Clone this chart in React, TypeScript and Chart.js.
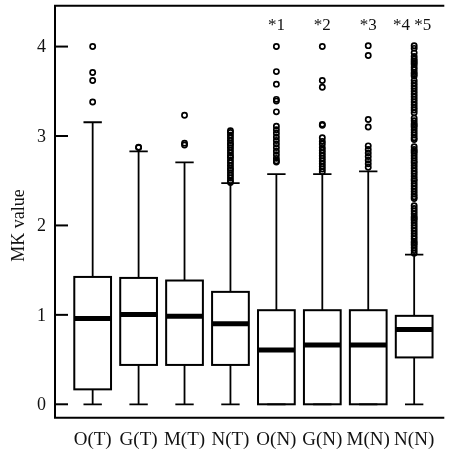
import React, { useEffect, useRef } from "react";
import { Chart, registerables } from "chart.js";
Chart.register(...registerables);

const categories = ["O(T)", "G(T)", "M(T)", "N(T)", "O(N)", "G(N)", "M(N)", "N(N)"];
const whiskerLow = [0, 0, 0, 0, 0, 0, 0, 0];
const q1 = [0.167, 0.44, 0.44, 0.44, 0, 0, 0, 0.524];
const median = [0.96, 1.004, 0.985, 0.9, 0.606, 0.662, 0.662, 0.837];
const q3 = [1.424, 1.413, 1.384, 1.257, 1.052, 1.052, 1.052, 0.989];
const whiskerHigh = [3.154, 2.827, 2.704, 2.473, 2.574, 2.574, 2.604, 1.674];

const outliersOT = [4.0, 3.71, 3.62, 3.38];
const outliersGT = [2.875, 2.87];
const outliersMT = [3.232, 2.92, 2.9];
const outliersNT = [3.06, 3.04, 3.01, 2.98, 2.95, 2.92, 2.9, 2.87, 2.84, 2.81, 2.78, 2.76, 2.73, 2.7, 2.67, 2.64, 2.62, 2.59, 2.56, 2.53, 2.5, 2.48];
const outliersON = [4.0, 3.72, 3.58, 3.41, 3.39, 3.27, 3.11, 3.07, 3.03, 2.99, 2.95, 2.91, 2.87, 2.83, 2.79, 2.75, 2.72, 2.71];
const outliersGN = [4.0, 3.62, 3.545, 3.13, 3.12, 2.98, 2.94, 2.91, 2.87, 2.84, 2.81, 2.78, 2.75, 2.72, 2.69, 2.66, 2.63, 2.6];
const outliersMN = [4.01, 3.9, 3.185, 3.1, 2.89, 2.85, 2.81, 2.77, 2.73, 2.69, 2.65];
const outliersNN = [
  4.01, 3.98, 3.93, 3.89, 3.86, 3.84, 3.82, 3.8, 3.77, 3.74, 3.71, 3.69, 3.67, 3.62, 3.59, 3.56, 3.53, 3.5, 3.47,
  3.44, 3.41, 3.38, 3.35, 3.32, 3.29, 3.26, 3.2, 3.17, 3.14, 3.12, 3.1, 3.07, 3.04, 3.01, 2.98, 2.96,
  2.88, 2.85, 2.83, 2.81, 2.78, 2.75, 2.72, 2.7, 2.67, 2.64, 2.61, 2.58, 2.55, 2.52, 2.5, 2.47, 2.44, 2.41, 2.38, 2.35, 2.32, 2.3,
  2.22, 2.19, 2.16, 2.13, 2.1, 2.08, 2.06, 2.03, 2.0, 1.97, 1.94, 1.91, 1.88, 1.85, 1.82, 1.8, 1.78, 1.75, 1.72, 1.69,
];
const outliers = [outliersOT, outliersGT, outliersMT, outliersNT, outliersON, outliersGN, outliersMN, outliersNN];
const annotations = ["", "", "", "", "*1", "*2", "*3", "*4 *5"];
const yTicks = [0, 1, 2, 3, 4];
const yTitle = "MK value";

const FONT = "'Liberation Serif', 'Times New Roman', serif";

const boxPlugin = {
  id: "boxplot",
  beforeDatasetsDraw(chart: any) {
    const { ctx, chartArea } = chart;
    const x = chart.scales.x;
    const y = chart.scales.y;
    ctx.save();
    ctx.strokeStyle = "#000";
    ctx.fillStyle = "#111";
    // frame: top, left, bottom
    ctx.lineWidth = 2;
    ctx.beginPath();
    ctx.moveTo(chartArea.right, chartArea.top);
    ctx.lineTo(chartArea.left, chartArea.top);
    ctx.lineTo(chartArea.left, chartArea.bottom);
    ctx.lineTo(chartArea.right, chartArea.bottom);
    ctx.stroke();

    // y ticks (inward) and labels
    ctx.font = `18px ${FONT}`;
    ctx.textAlign = "right";
    ctx.textBaseline = "middle";
    yTicks.forEach((t) => {
      const py = y.getPixelForValue(t);
      ctx.beginPath();
      ctx.moveTo(chartArea.left, py);
      ctx.lineTo(chartArea.left + 13, py);
      ctx.stroke();
      ctx.fillText(String(t), chartArea.left - 9, py + 1);
    });

    // y title
    ctx.save();
    ctx.translate(19, y.getPixelForValue(2));
    ctx.rotate(-Math.PI / 2);
    ctx.textAlign = "center";
    ctx.textBaseline = "middle";
    ctx.fillText(yTitle, 0, 0);
    ctx.restore();

    // boxes
    categories.forEach((cat, i) => {
      const cx = x.getPixelForValue(i + 1);
      const halfW = (x.getPixelForValue(i + 1.4) - x.getPixelForValue(i + 0.6)) / 2;
      const capW = halfW / 2;
      const yq1 = y.getPixelForValue(q1[i]);
      const yq3 = y.getPixelForValue(q3[i]);
      const ymed = y.getPixelForValue(median[i]);
      const ylo = y.getPixelForValue(whiskerLow[i]);
      const yhi = y.getPixelForValue(whiskerHigh[i]);
      ctx.lineWidth = 1.8;
      ctx.beginPath();
      ctx.moveTo(cx, yq3);
      ctx.lineTo(cx, yhi);
      ctx.moveTo(cx - capW, yhi);
      ctx.lineTo(cx + capW, yhi);
      if (yq1 < ylo) {
        ctx.moveTo(cx, yq1);
        ctx.lineTo(cx, ylo);
      }
      ctx.moveTo(cx - capW, ylo);
      ctx.lineTo(cx + capW, ylo);
      ctx.stroke();
      ctx.lineWidth = 2;
      ctx.strokeRect(cx - halfW, yq3, halfW * 2, yq1 - yq3);
      ctx.lineWidth = 5;
      ctx.beginPath();
      ctx.moveTo(cx - halfW, ymed);
      ctx.lineTo(cx + halfW, ymed);
      ctx.stroke();

      // x label
      ctx.font = `19px ${FONT}`;
      ctx.textAlign = "center";
      ctx.textBaseline = "middle";
      ctx.fillText(cat, cx, chartArea.bottom + 22);

      if (annotations[i]) {
        ctx.font = `17px ${FONT}`;
        ctx.textBaseline = "alphabetic";
        ctx.fillText(annotations[i], cx - (i === 7 ? 2 : 0), 30);
      }
    });
    ctx.restore();
  },
};

export default function App() {
  const ref = useRef<HTMLCanvasElement | null>(null);
  useEffect(() => {
    if (!ref.current) return;
    const points: { x: number; y: number }[] = [];
    outliers.forEach((arr, i) => arr.forEach((v) => points.push({ x: i + 1, y: v })));
    const chart = new Chart(ref.current, {
      type: "scatter",
      data: {
        datasets: [
          {
            data: points,
            pointStyle: "circle",
            pointRadius: 2.6,
            pointBorderWidth: 1.7,
            borderColor: "#000",
            backgroundColor: "rgba(0,0,0,0)",
            pointBackgroundColor: "rgba(255,255,255,0)",
            pointBorderColor: "#000",
          },
        ],
      },
      options: {
        animation: false,
        responsive: false,
        devicePixelRatio: 1,
        layout: { padding: { left: 55, top: 5, right: 0, bottom: 33.3 } },
        plugins: { legend: { display: false }, tooltip: { enabled: false } },
        events: [],
        scales: {
          x: { type: "linear", min: 0.18, max: 8.656, display: false },
          y: { type: "linear", min: -0.15, max: 4.457, display: false },
        },
      },
      plugins: [boxPlugin],
    });
    return () => chart.destroy();
  }, []);
  return (
    <div style={{ position: "absolute", left: 0, top: 0, width: 450, height: 451, background: "#fff" }}>
      <canvas ref={ref} width={450} height={451} />
    </div>
  );
}
